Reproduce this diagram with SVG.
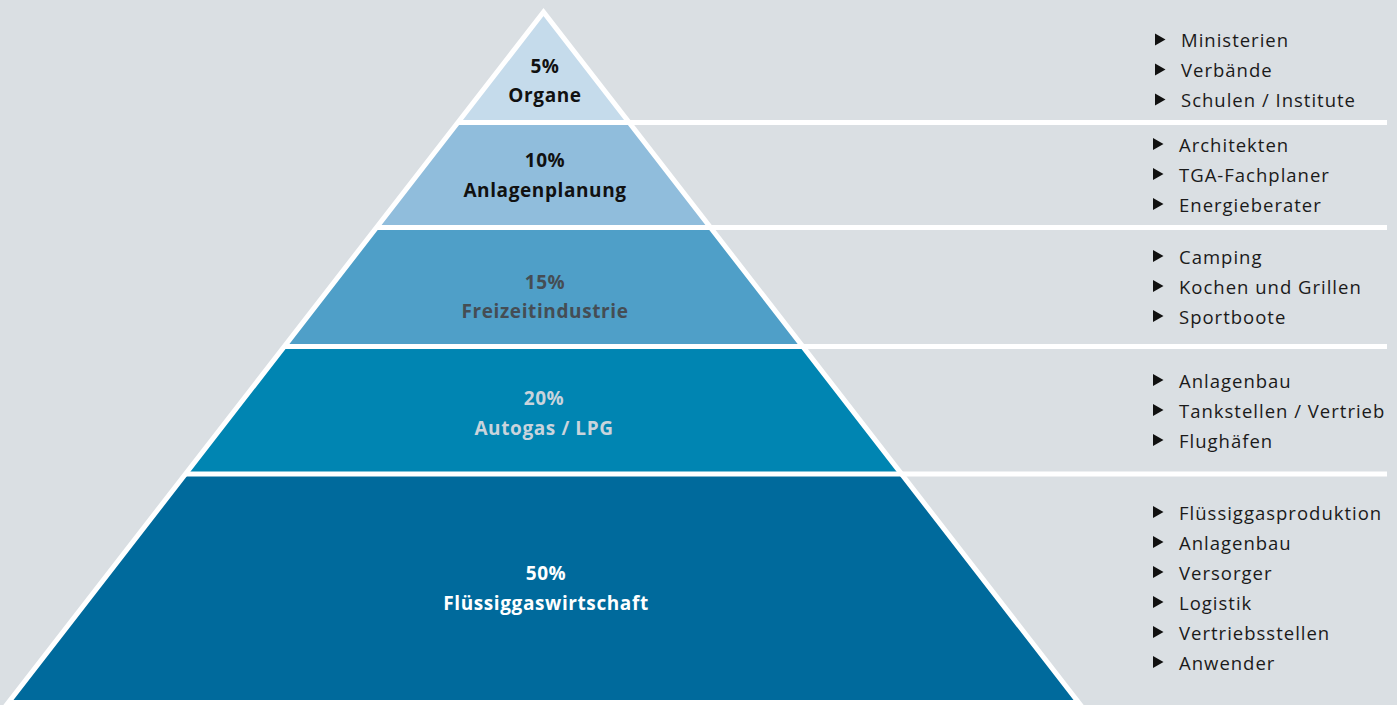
<svg xmlns="http://www.w3.org/2000/svg" xmlns:xlink="http://www.w3.org/1999/xlink" width="1397" height="705" viewBox="0 0 1397 705">
<style>
.lbl{font-family:"Open Sans","Liberation Sans",sans-serif;font-weight:700;font-size:19px;letter-spacing:0.6px;text-anchor:middle}
.item{font-family:"Open Sans","Liberation Sans",sans-serif;font-size:18.5px;letter-spacing:1px;fill:#1a1a1a}
.sep{stroke:#ffffff;stroke-width:5;fill:none}
.bul{fill:#111111}
</style>
<defs>
<path id="tri" d="M0,-6 L10.5,0 L0,6Z"/>
</defs>
<rect x="0" y="0" width="1397" height="705" fill="#dadfe3"/>
<g id="band-organe">
<polygon points="543.5,12 629.1,122.5 457.9,122.5" fill="#c5dbeb"/>
<text class="lbl" x="545" y="73" fill="#111111">5%</text>
<text class="lbl" x="545" y="102" fill="#111111">Organe</text>
</g>
<g id="band-anlagenplanung">
<polygon points="457.9,122.5 629.1,122.5 710.5,227.5 376.5,227.5" fill="#90bddc"/>
<text class="lbl" x="545" y="167" fill="#111111">10%</text>
<text class="lbl" x="545" y="197" fill="#111111">Anlagenplanung</text>
</g>
<g id="band-freizeit">
<polygon points="376.5,227.5 710.5,227.5 802.7,346.5 284.3,346.5" fill="#4f9fc8"/>
<text class="lbl" x="545" y="289" fill="#454d54">15%</text>
<text class="lbl" x="545" y="318" fill="#454d54">Freizeitindustrie</text>
</g>
<g id="band-autogas">
<polygon points="284.3,346.5 802.7,346.5 901.6,474 185.4,474" fill="#0085b2"/>
<text class="lbl" x="544" y="405" fill="#c9d4dc">20%</text>
<text class="lbl" x="544" y="435" fill="#c9d4dc">Autogas / LPG</text>
</g>
<g id="band-fluessiggas">
<polygon points="185.4,474 901.6,474 1078.6,702.5 8.4,702.5" fill="#006a9c"/>
<text class="lbl" x="546" y="580" fill="#ffffff">50%</text>
<text class="lbl" x="546" y="610" fill="#ffffff">Flüssiggaswirtschaft</text>
</g>
<g id="connectors">
<line class="sep" x1="457.9" y1="122.5" x2="1387" y2="122.5"/>
<line class="sep" x1="376.5" y1="227.5" x2="1387" y2="227.5"/>
<line class="sep" x1="284.3" y1="346.5" x2="1387" y2="346.5"/>
<line class="sep" x1="185.4" y1="474" x2="1387" y2="474"/>
<polygon class="sep" points="543.5,12 1078.6,702.5 8.4,702.5" stroke-linejoin="miter"/>
</g>
<g id="list-organe">
<use xlink:href="#tri" class="bul" x="1155" y="39.5"/>
<use xlink:href="#tri" class="bul" x="1155" y="69.5"/>
<use xlink:href="#tri" class="bul" x="1155" y="99.5"/>
<text class="item" x="1181" y="47">Ministerien</text>
<text class="item" x="1181" y="77">Verbände</text>
<text class="item" x="1181" y="107">Schulen / Institute</text>
</g>
<g id="list-anlagenplanung">
<use xlink:href="#tri" class="bul" x="1153" y="144"/>
<use xlink:href="#tri" class="bul" x="1153" y="174"/>
<use xlink:href="#tri" class="bul" x="1153" y="204"/>
<text class="item" x="1179" y="152">Architekten</text>
<text class="item" x="1179" y="182">TGA-Fachplaner</text>
<text class="item" x="1179" y="212">Energieberater</text>
</g>
<g id="list-freizeit">
<use xlink:href="#tri" class="bul" x="1153" y="256"/>
<use xlink:href="#tri" class="bul" x="1153" y="286"/>
<use xlink:href="#tri" class="bul" x="1153" y="316"/>
<text class="item" x="1179" y="264">Camping</text>
<text class="item" x="1179" y="294">Kochen und Grillen</text>
<text class="item" x="1179" y="324">Sportboote</text>
</g>
<g id="list-autogas">
<use xlink:href="#tri" class="bul" x="1153" y="380"/>
<use xlink:href="#tri" class="bul" x="1153" y="410"/>
<use xlink:href="#tri" class="bul" x="1153" y="440"/>
<text class="item" x="1179" y="388">Anlagenbau</text>
<text class="item" x="1179" y="418">Tankstellen / Vertrieb</text>
<text class="item" x="1179" y="448">Flughäfen</text>
</g>
<g id="list-fluessiggas">
<use xlink:href="#tri" class="bul" x="1153" y="512"/>
<use xlink:href="#tri" class="bul" x="1153" y="542"/>
<use xlink:href="#tri" class="bul" x="1153" y="572"/>
<use xlink:href="#tri" class="bul" x="1153" y="602"/>
<use xlink:href="#tri" class="bul" x="1153" y="632"/>
<use xlink:href="#tri" class="bul" x="1153" y="662"/>
<text class="item" x="1179" y="520">Flüssiggasproduktion</text>
<text class="item" x="1179" y="550">Anlagenbau</text>
<text class="item" x="1179" y="580">Versorger</text>
<text class="item" x="1179" y="610">Logistik</text>
<text class="item" x="1179" y="640">Vertriebsstellen</text>
<text class="item" x="1179" y="670">Anwender</text>
</g>
</svg>
